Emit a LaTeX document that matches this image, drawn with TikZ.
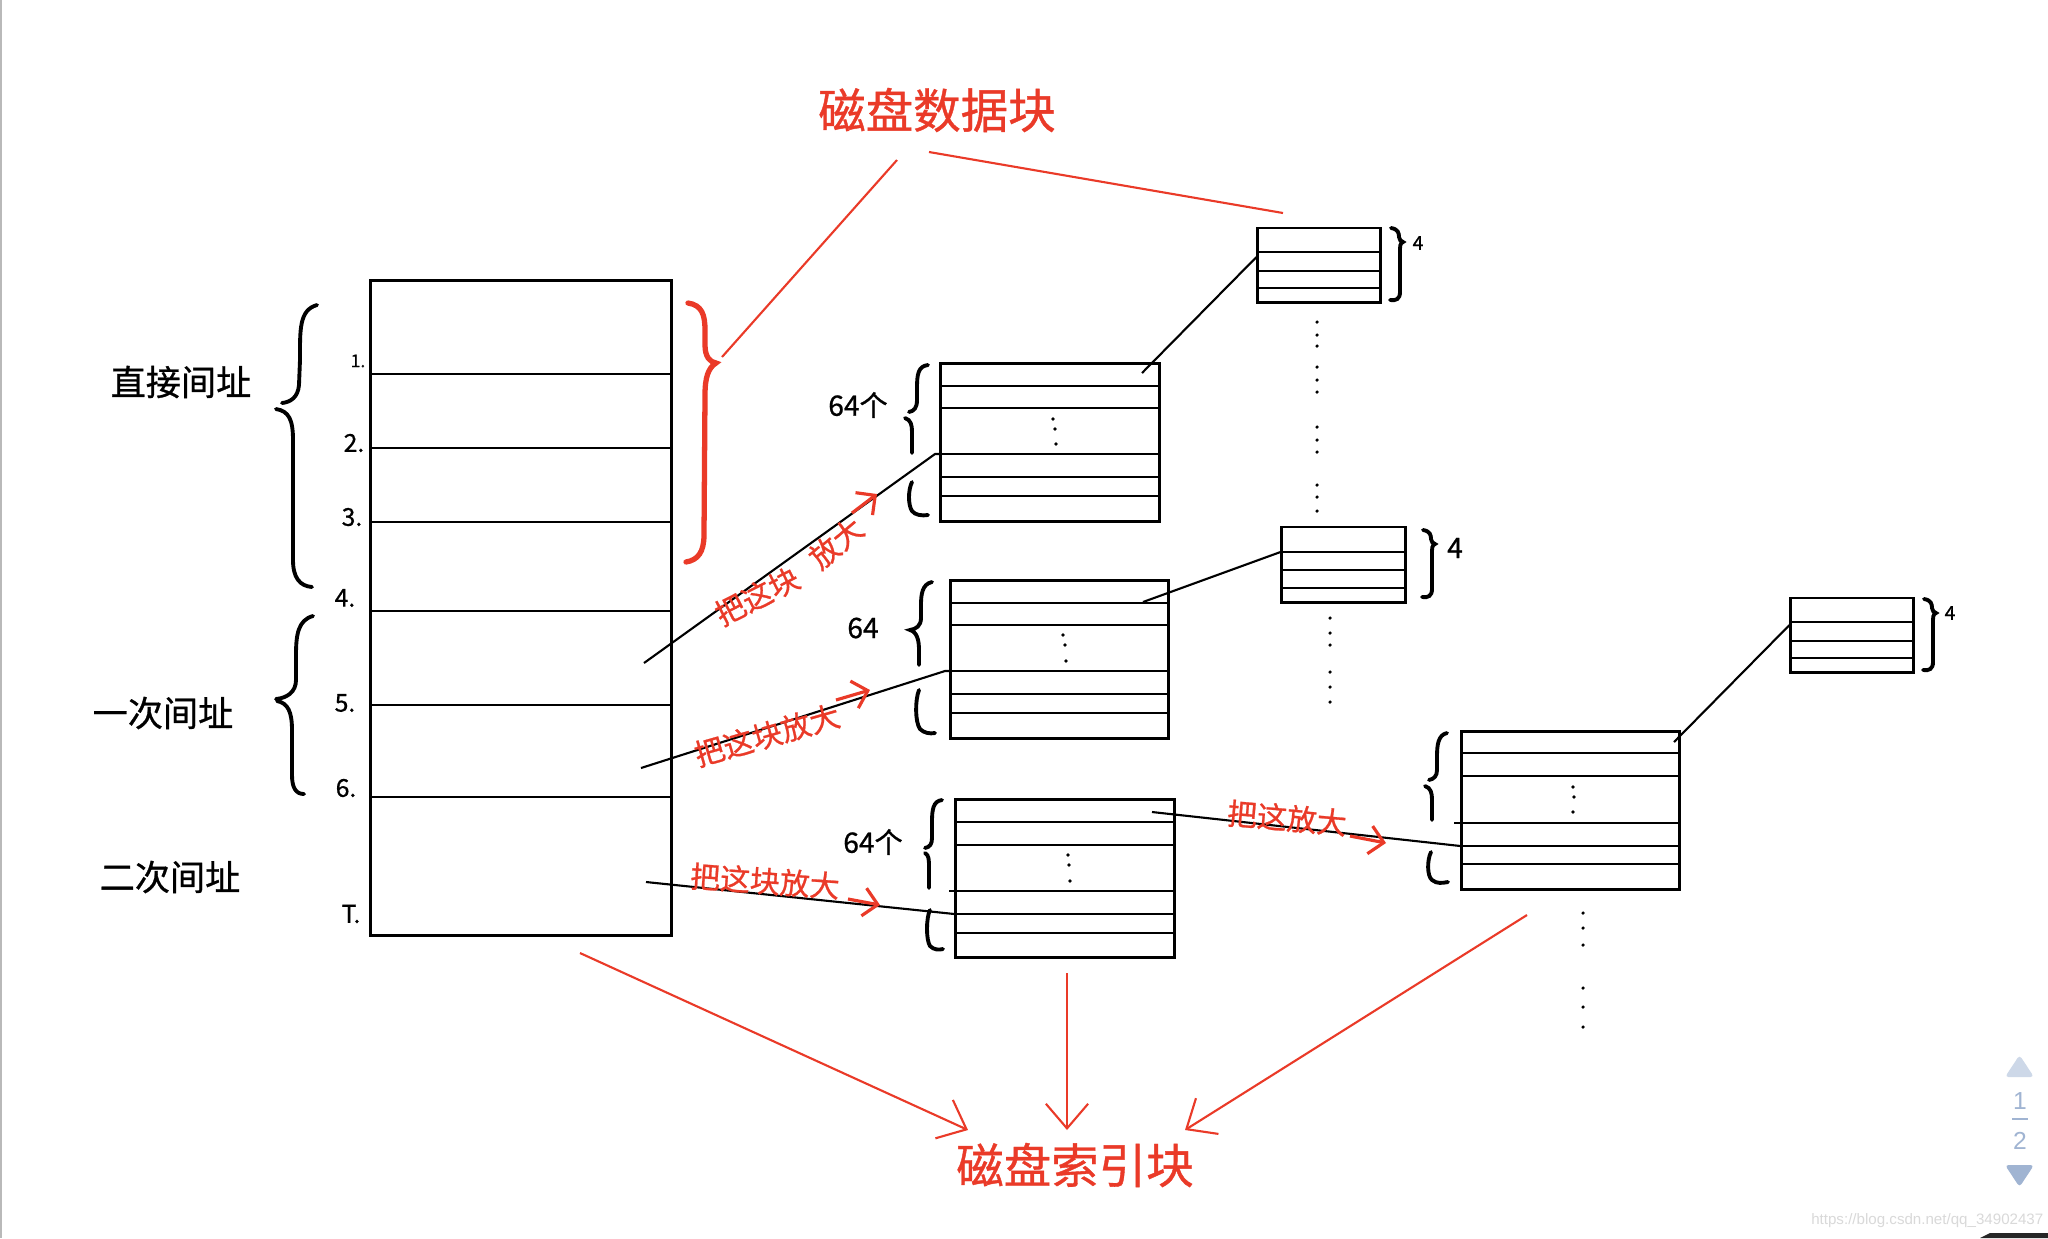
\documentclass[tikz,border=0pt]{standalone}
\usepackage{fontspec}
\usetikzlibrary{arrows.meta}
\newfontfamily\cjk[FakeBold=0.8]{Noto Sans CJK SC}
\newfontfamily\wmfont{Liberation Sans}
\definecolor{inkred}{RGB}{234,58,40}
\definecolor{navup}{RGB}{205,216,232}
\definecolor{navdown}{RGB}{160,180,210}

\begin{document}
\begin{tikzpicture}[x=0.01cm, y=-0.01cm,
  tbl/.style={draw, line width=0.85pt, inner sep=0pt},
  row/.style={line width=0.7pt},
  link/.style={line width=0.6pt},
  brace/.style={line width=1.1pt, line cap=round},
  redbrace/.style={draw=inkred, line width=1.5pt, line cap=round},
  redline/.style={draw=inkred, line width=0.6pt},
  redarrow/.style={redline, -{Straight Barb[length=7pt,width=12pt]}},
  redtip/.style={draw=inkred, line width=0.9pt, -{Straight Barb[length=4pt,width=8pt]}},
  hand/.style={font=\cjk\fontsize{10}{12}\selectfont},
  bigred/.style={text=inkred, font=\cjk\fontsize{13.5}{15}\selectfont},
  redhand/.style={text=inkred, inner sep=0pt, font=\cjk\fontsize{8.5}{10}\selectfont},
  num/.style={inner sep=0pt, font=\cjk\fontsize{7}{8}\selectfont},
  cnt/.style={inner sep=0pt, font=\cjk\fontsize{8}{9}\selectfont},
  nav/.style={text=navdown, inner sep=0pt, font=\wmfont\fontsize{7}{8}\selectfont}
]
\useasboundingbox (0,0) rectangle (2048,1238);
\fill[white] (0,0) rectangle (2048,1238);

% ---------- inode table ----------
\node[tbl, minimum width=3cm, minimum height=6.54cm] (main) at (521,608) {};
\foreach \r in {374,448,522,611,705,797}
  \draw[row] (main.west |- 0,\r) -- (main.east |- 0,\r);
\node[num, font=\cjk\fontsize{5}{6}\selectfont] (n1) at (358,361) {1.};
\node[num] (n2) at (354,443) {2.};
\node[num] (n3) at (352,517) {3.};
\node[num] (n4) at (345,598) {4.};
\node[num] (n5) at (345,703) {5.};
\node[num] (n6) at (346,788) {6.};
\node[num] (n7) at (351,914) {T.};

% left braces and address kinds
\draw[brace] (317,305) .. controls (299,310) and (300,330) .. (300,360) -- (299,385)
  .. controls (298,397) and (291,402) .. (282,403);
\draw[brace] (276,409) .. controls (289,411) and (293,420) .. (293,440) -- (293,560)
  .. controls (293,578) and (300,586) .. (312,587);
\draw[brace] (313,616) .. controls (298,620) and (296,635) .. (296,655) -- (296,680)
  .. controls (296,692) and (287,698) .. (276,699);
\draw[brace] (277,701) .. controls (288,703) and (292,712) .. (292,730) -- (292,775)
  .. controls (292,788) and (296,794) .. (304,794);
\node[hand] (direct) at (181,382) {直接间址};
\node[hand] (single) at (163,713) {一次间址};
\node[hand] (double) at (170,877) {二次间址};

% ---------- data blocks (title) ----------
\draw[redbrace] (688,303) .. controls (702,305) and (705,315) .. (705,330) -- (705,345)
  .. controls (705,357) and (710,362) .. (716,363)
  .. controls (708,368) and (705,378) .. (705,395) -- (704,535)
  .. controls (704,552) and (698,560) .. (686,562);
\node[bigred] (datablk) at (937,110) {磁盘数据块};
\coordinate (dl) at (897,160);
\coordinate (dr) at (929,152);
\coordinate (bracetip) at (722,357);
\coordinate (blkAtop) at (1283,213);
\draw[redline] (dl) -- (bracetip);
\draw[redline] (dr) -- (blkAtop);

% ---------- first level index blocks ----------
\node[tbl, minimum width=2.18cm, minimum height=1.57cm] (e1) at (1050,442.5) {};
\foreach \r in {386,408,454,477,496}
  \draw[row] (e1.west |- 0,\r) -- (e1.east |- 0,\r);
\node[tbl, minimum width=2.17cm, minimum height=1.57cm] (e2) at (1059.5,659.5) {};
\foreach \r in {603,625,671,694,713}
  \draw[row] (e2.west |- 0,\r) -- (e2.east |- 0,\r);
\node[tbl, minimum width=2.18cm, minimum height=1.57cm] (e3) at (1065,878.5) {};
\foreach \r in {822,845,914,933}
  \draw[row] (e3.west |- 0,\r) -- (e3.east |- 0,\r);
\draw[row] (949,891) -- (e3.east |- 0,891);
\foreach \p in {(1053,419),(1055,429),(1056,444),(1063,635),(1065,645),(1066,661),
                (1068,855),(1069,865),(1070,881)}
  \fill \p circle[radius=0.55pt];

% braces of the 64 entries
\draw[brace] (928,365) .. controls (918,366) and (917,375) .. (917,388) -- (917,400)
  .. controls (917,408) and (914,411) .. (909,412);
\draw[brace] (905,418) .. controls (911,420) and (912,425) .. (912,432) -- (912,453);
\draw[brace] (912,482) .. controls (908,490) and (908,505) .. (912,511)
  .. controls (915,515) and (922,516) .. (928,515);
\draw[brace] (932,582) .. controls (922,584) and (921,595) .. (921,605) -- (921,618)
  .. controls (921,626) and (916,629) .. (910,630)
  .. controls (917,632) and (919,640) .. (919,650) -- (919,665);
\draw[brace] (919,690) .. controls (915,700) and (915,722) .. (920,729)
  .. controls (924,733) and (930,734) .. (935,733);
\draw[brace] (942,800) .. controls (933,801) and (932,810) .. (932,822) -- (932,838)
  .. controls (932,844) and (930,847) .. (925,848);
\draw[brace] (925,853) .. controls (929,855) and (929,860) .. (929,868) -- (929,888);
\draw[brace] (930,910) .. controls (926,918) and (926,940) .. (930,946)
  .. controls (934,950) and (939,950) .. (943,949);
\node[cnt] (c1) at (858,405) {64个};
\node[cnt] (c2) at (863,628) {64};
\node[cnt] (c3) at (873,842) {64个};

% ---------- second level index block ----------
\node[tbl, minimum width=2.17cm, minimum height=1.57cm] (d) at (1570.5,810.5) {};
\foreach \r in {753,776,846,864}
  \draw[row] (d.west |- 0,\r) -- (d.east |- 0,\r);
\draw[row] (1454,823) -- (d.east |- 0,823);
\foreach \p in {(1573,787),(1574,797),(1573,812)}
  \fill \p circle[radius=0.55pt];
\draw[brace] (1447,733) .. controls (1438,735) and (1437,745) .. (1437,757) -- (1437,770)
  .. controls (1437,776) and (1434,779) .. (1429,780);
\draw[brace] (1425,786) .. controls (1431,788) and (1432,793) .. (1432,800) -- (1432,820);
\draw[brace] (1431,852) .. controls (1427,860) and (1427,876) .. (1432,880)
  .. controls (1437,884) and (1442,883) .. (1448,882);

% ---------- small data blocks ----------
\node[tbl, minimum width=1.22cm, minimum height=0.74cm] (ba) at (1319,265) {};
\foreach \r in {252,271,288}
  \draw[row] (ba.west |- 0,\r) -- (ba.east |- 0,\r);
\node[tbl, minimum width=1.23cm, minimum height=0.75cm] (bb) at (1343.5,564.5) {};
\foreach \r in {552,570,588}
  \draw[row] (bb.west |- 0,\r) -- (bb.east |- 0,\r);
\node[tbl, minimum width=1.22cm, minimum height=0.74cm] (bc) at (1852,635) {};
\foreach \r in {622,641,658}
  \draw[row] (bc.west |- 0,\r) -- (bc.east |- 0,\r);

\draw[brace] (1391,228) .. controls (1398,229) and (1399,233) .. (1399,237)
  .. controls (1399,240) and (1401,241) .. (1403,242)
  .. controls (1400,243) and (1400,246) .. (1400,252) -- (1400,292)
  .. controls (1400,299) and (1396,301) .. (1390,300);
\draw[brace] (1423,530) .. controls (1430,531) and (1431,535) .. (1431,539)
  .. controls (1431,542) and (1433,543) .. (1435,544)
  .. controls (1432,545) and (1432,548) .. (1432,554) -- (1432,589)
  .. controls (1432,596) and (1428,598) .. (1422,597);
\draw[brace] (1924,599) .. controls (1931,600) and (1932,604) .. (1932,608)
  .. controls (1932,611) and (1934,612) .. (1936,613)
  .. controls (1933,614) and (1933,617) .. (1933,623) -- (1933,662)
  .. controls (1933,669) and (1929,671) .. (1923,670);
\node[num, font=\cjk\fontsize{5.5}{6}\selectfont] (k1) at (1418,243) {4};
\node[num, font=\cjk\fontsize{8}{9}\selectfont] (k2) at (1455,548) {4};
\node[num, font=\cjk\fontsize{5.5}{6}\selectfont] (k3) at (1950,613) {4};

\foreach \y in {322,335,346,367,380,392,427,440,452,485,497,511}
  \fill (1317,\y) circle[radius=0.5pt];
\foreach \y in {618,633,645,672,687,702}
  \fill (1330,\y) circle[radius=0.5pt];
\foreach \y in {913,928,945,988,1007,1027}
  \fill (1583,\y) circle[radius=0.5pt];

% ---------- pointers ----------
\coordinate (p4) at (644,663);
\coordinate (p6) at (641,768);
\coordinate (p7) at (646,882);
\coordinate (e1in) at (935,454);
\coordinate (e2in) at (945,671);
\coordinate (e1out) at (1142,373);
\coordinate (e2out) at (1143,602);
\coordinate (e3out) at (1152,812);
\coordinate (dout) at (1674,742);
\draw[link] (p4) -- (e1in) -- (e1.west |- e1in);
\draw[link] (p6) -- (e2in) -- (e2.west |- e2in);
\draw[link] (p7) -- (e3.west |- 0,914);
\draw[link] (e1out) -- (ba.west |- 0,257);
\draw[link] (e2out) -- (bb.west |- 0,552);
\draw[link] (e3out) -- (d.west |- 0,846);
\draw[link] (dout) -- (bc.west |- 0,625);

% red notes on the pointers
\node[redhand, rotate=27] (zoom1a) at (757,596) {把这块};
\node[redhand, rotate=40] (zoom1b) at (836,543) {放大};
\node[redhand, rotate=16] (zoom2) at (767,735) {把这块放大};
\node[redhand, rotate=-4] (zoom3) at (765,881) {把这块放大};
\node[redhand, rotate=-5] (zoom4) at (1287,818) {把这放大};
\coordinate (t1a) at (852,513); \coordinate (t1b) at (877,494);
\coordinate (t2a) at (836,700); \coordinate (t2b) at (870,690);
\coordinate (t3a) at (848,899); \coordinate (t3b) at (880,905);
\coordinate (t4a) at (1350,836); \coordinate (t4b) at (1386,843);
\draw[redtip] (t1a) -- (t1b);
\draw[redtip] (t2a) -- (t2b);
\draw[redtip] (t3a) -- (t3b);
\draw[redtip] (t4a) -- (t4b);

% ---------- index blocks (bottom) ----------
\node[bigred] (idxblk) at (1075,1165) {磁盘索引块};
\coordinate (fromMain) at (580,953);
\coordinate (fromE3) at (1067,973);
\coordinate (fromD) at (1527,915);
\coordinate (toL) at (968,1130);
\coordinate (toM) at (1067,1130);
\coordinate (toR) at (1185,1130);
\draw[redarrow] (fromMain) -- (toL);
\draw[redarrow] (fromE3) -- (toM);
\draw[redarrow] (fromD) -- (toR);

% ---------- viewer overlay ----------
\draw[gray!55, line width=0.8pt] (1,0) -- (1,1238);
\fill[navup, rounded corners=1pt] (2005,1077) -- (2034,1077) -- (2019.5,1055) -- cycle;
\node[nav] (pgone) at (2020,1101) {1};
\draw[navdown, line width=0.6pt] (2012,1119) -- (2028,1119);
\node[nav] (pgtwo) at (2020,1141) {2};
\fill[navdown, rounded corners=1pt] (2005,1165) -- (2034,1165) -- (2019.5,1187) -- cycle;
\node[anchor=east, inner sep=0pt, text=gray!30, font=\wmfont\fontsize{4.3}{5}\selectfont]
  (wm) at (2044,1221) {https://blog.csdn.net/qq\_34902437};
\fill[black!85] (1980,1238) -- (1990,1233) -- (2048,1233) -- (2048,1238) -- cycle;

\end{tikzpicture}
\end{document}
